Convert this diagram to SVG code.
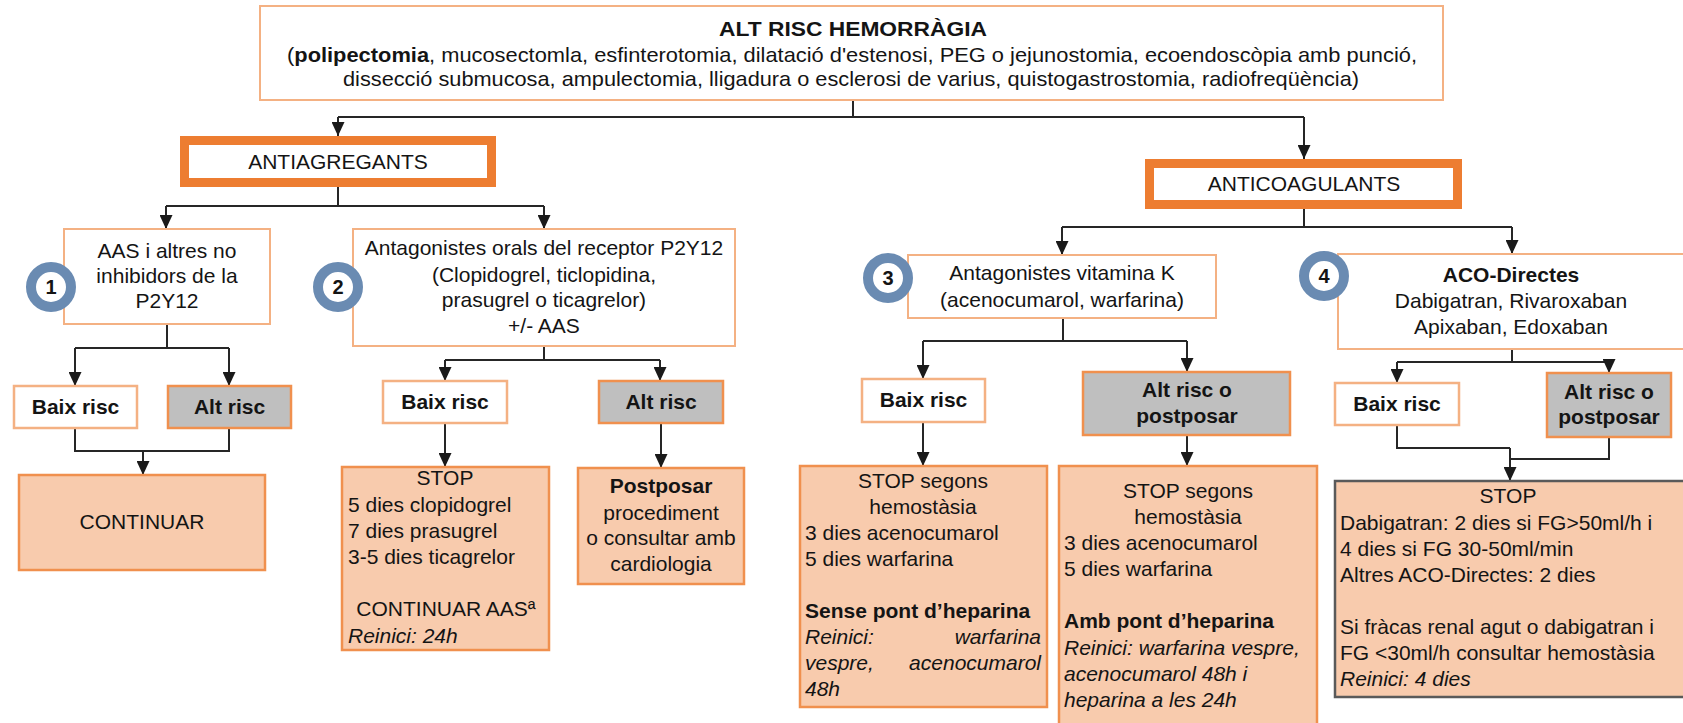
<svg xmlns="http://www.w3.org/2000/svg" width="1683" height="723" viewBox="0 0 1683 723">
  <defs>
    <marker id="arrow" viewBox="0 0 14 13" refX="14" refY="6.5" markerWidth="14" markerHeight="13" markerUnits="userSpaceOnUse" orient="auto">
      <path d="M0,0 L14,6.5 L0,13 z" fill="#1a1a1a"/>
    </marker>
    <style>
      text { font-family: "Liberation Sans", Arial, sans-serif; font-size: 21px; fill: #141414; }
      .c { text-anchor: middle; }
      .e { text-anchor: end; }
      .b { font-weight: bold; }
      .i { font-style: italic; }
      .box { fill: #ffffff; stroke: #f4b183; stroke-width: 2; }
      .risk { fill: #ffffff; stroke: #f4b183; stroke-width: 2.5; }
      .high { fill: #bfbfbf; stroke: #f0904e; stroke-width: 2.5; }
      .action { fill: #f8cbad; stroke: #f0904e; stroke-width: 2.5; }
      .dark { fill: #f8cbad; stroke: #5a5a5a; stroke-width: 2.5; }
      .group { fill: #ffffff; stroke: #ed7d31; stroke-width: 9; }
      .badge { fill: #ffffff; stroke: #6a8bb2; stroke-width: 10; }
      .num { font-weight: bold; font-size: 20px; text-anchor: middle; }
      .wire { fill: none; stroke: #262626; stroke-width: 2; }
    </style>
  </defs>

  <!-- connectors -->
  <g id="connectors" class="wire">
    <path d="M853 100 V117"/>
    <path d="M338 117 H1304"/>
    <path d="M338 117 V136" marker-end="url(#arrow)"/>
    <path d="M1304 117 V159" marker-end="url(#arrow)"/>

    <path d="M338 187 V206"/>
    <path d="M166 206 H544"/>
    <path d="M166 206 V229" marker-end="url(#arrow)"/>
    <path d="M544 206 V229" marker-end="url(#arrow)"/>

    <path d="M167 324 V348"/>
    <path d="M75 348 H229"/>
    <path d="M75 348 V386" marker-end="url(#arrow)"/>
    <path d="M229 348 V386" marker-end="url(#arrow)"/>
    <path d="M75 428 V451 H229 V428"/>
    <path d="M143 451 V475" marker-end="url(#arrow)"/>

    <path d="M544 346 V360"/>
    <path d="M445 360 H660"/>
    <path d="M445 360 V381" marker-end="url(#arrow)"/>
    <path d="M660 360 V381" marker-end="url(#arrow)"/>
    <path d="M445 423 V467" marker-end="url(#arrow)"/>
    <path d="M661 423 V468" marker-end="url(#arrow)"/>

    <path d="M1304 209 V227"/>
    <path d="M1062 227 H1512"/>
    <path d="M1062 227 V255" marker-end="url(#arrow)"/>
    <path d="M1512 227 V254" marker-end="url(#arrow)"/>

    <path d="M1063 318 V341"/>
    <path d="M923 341 H1187"/>
    <path d="M923 341 V379" marker-end="url(#arrow)"/>
    <path d="M1187 341 V372" marker-end="url(#arrow)"/>
    <path d="M923 422 V466" marker-end="url(#arrow)"/>
    <path d="M1187 435 V466" marker-end="url(#arrow)"/>

    <path d="M1512 349 V362"/>
    <path d="M1397 362 H1609"/>
    <path d="M1397 362 V383" marker-end="url(#arrow)"/>
    <path d="M1609 362 V373" marker-end="url(#arrow)"/>
    <path d="M1397 425 V448 H1510"/>
    <path d="M1609 437 V459 H1510"/>
    <path d="M1510 448 V481" marker-end="url(#arrow)"/>
  </g>

  <!-- root: high bleeding-risk procedures -->
  <g id="alt-risc">
    <rect class="box" x="260" y="6" width="1183" height="94"/>
    <text class="c b" x="853" y="36" textLength="268" lengthAdjust="spacingAndGlyphs">ALT RISC HEMORRÀGIA</text>
    <text class="c" x="852" y="62" textLength="1130" lengthAdjust="spacingAndGlyphs">(<tspan class="b">polipectomia</tspan>, mucosectomla, esfinterotomia, dilatació d'estenosi, PEG o jejunostomia, ecoendoscòpia amb punció,</text>
    <text class="c" x="851" y="86" textLength="1016" lengthAdjust="spacingAndGlyphs">dissecció submucosa, ampulectomia, lligadura o esclerosi de varius, quistogastrostomia, radiofreqüència)</text>
  </g>

  <!-- antiplatelet branch -->
  <g id="antiagregants">
    <rect class="group" x="184.5" y="140.5" width="307" height="42"/>
    <text class="c" x="338" y="169">ANTIAGREGANTS</text>
  </g>

  <g id="aas">
    <rect class="box" x="64" y="229" width="206" height="95"/>
    <text class="c" x="167" y="258">AAS i altres no</text>
    <text class="c" x="167" y="283">inhibidors de la</text>
    <text class="c" x="167" y="308">P2Y12</text>
    <circle class="badge" cx="51" cy="287" r="20"/>
    <text class="num" x="51" y="294">1</text>
  </g>

  <g id="p2y12">
    <rect class="box" x="353" y="229" width="382" height="117"/>
    <text class="c" x="544" y="255">Antagonistes orals del receptor P2Y12</text>
    <text class="c" x="544" y="282">(Clopidogrel, ticlopidina,</text>
    <text class="c" x="544" y="307">prasugrel o ticagrelor)</text>
    <text class="c" x="544" y="333">+/- AAS</text>
    <circle class="badge" cx="338" cy="287" r="20"/>
    <text class="num" x="338" y="294">2</text>
  </g>

  <g id="aas-baix">
    <rect class="risk" x="14" y="386" width="123" height="42"/>
    <text class="c b" x="75.5" y="414">Baix risc</text>
  </g>
  <g id="aas-alt">
    <rect class="high" x="168" y="386" width="123" height="42"/>
    <text class="c b" x="229.5" y="414">Alt risc</text>
  </g>
  <g id="aas-continuar">
    <rect class="action" x="19" y="475" width="246" height="95"/>
    <text class="c" x="142" y="529">CONTINUAR</text>
  </g>

  <g id="p2y12-baix">
    <rect class="risk" x="383" y="381" width="124" height="42"/>
    <text class="c b" x="445" y="409">Baix risc</text>
  </g>
  <g id="p2y12-alt">
    <rect class="high" x="599" y="381" width="124" height="42"/>
    <text class="c b" x="661" y="409">Alt risc</text>
  </g>
  <g id="p2y12-stop">
    <rect class="action" x="342" y="467" width="207" height="183"/>
    <text class="c" x="445" y="485">STOP</text>
    <text x="348" y="512">5 dies clopidogrel</text>
    <text x="348" y="538">7 dies prasugrel</text>
    <text x="348" y="564">3-5 dies ticagrelor</text>
    <text class="c" x="446" y="616">CONTINUAR AASª</text>
    <text class="i" x="348" y="643">Reinici: 24h</text>
  </g>
  <g id="p2y12-postposar">
    <rect class="action" x="578" y="468" width="166" height="116"/>
    <text class="c b" x="661" y="493">Postposar</text>
    <text class="c" x="661" y="520">procediment</text>
    <text class="c" x="661" y="545">o consultar amb</text>
    <text class="c" x="661" y="571">cardiologia</text>
  </g>

  <!-- anticoagulant branch -->
  <g id="anticoagulants">
    <rect class="group" x="1149.5" y="163.5" width="308" height="41"/>
    <text class="c" x="1304" y="191">ANTICOAGULANTS</text>
  </g>

  <g id="avk">
    <rect class="box" x="908" y="255" width="308" height="63"/>
    <text class="c" x="1062" y="280">Antagonistes vitamina K</text>
    <text class="c" x="1062" y="307">(acenocumarol, warfarina)</text>
    <circle class="badge" cx="888" cy="278" r="20"/>
    <text class="num" x="888" y="285">3</text>
  </g>

  <g id="aco">
    <rect class="box" x="1338" y="254" width="352" height="95"/>
    <text class="c b" x="1511" y="282">ACO-Directes</text>
    <text class="c" x="1511" y="308">Dabigatran, Rivaroxaban</text>
    <text class="c" x="1511" y="334">Apixaban, Edoxaban</text>
    <circle class="badge" cx="1324" cy="276" r="20"/>
    <text class="num" x="1324" y="283">4</text>
  </g>

  <g id="avk-baix">
    <rect class="risk" x="862" y="379" width="123" height="43"/>
    <text class="c b" x="923.5" y="407">Baix risc</text>
  </g>
  <g id="avk-alt">
    <rect class="high" x="1083" y="372" width="207" height="63"/>
    <text class="c b" x="1187" y="397">Alt risc o</text>
    <text class="c b" x="1187" y="423">postposar</text>
  </g>
  <g id="avk-stop-baix">
    <rect class="action" x="800" y="466" width="247" height="241"/>
    <text class="c" x="923" y="488">STOP segons</text>
    <text class="c" x="923" y="514">hemostàsia</text>
    <text x="805" y="540">3 dies acenocumarol</text>
    <text x="805" y="566">5 dies warfarina</text>
    <text class="b" x="805" y="618">Sense pont d’heparina</text>
    <text class="i" x="805" y="644">Reinici:</text>
    <text class="i e" x="1041" y="644">warfarina</text>
    <text class="i" x="805" y="670">vespre,</text>
    <text class="i e" x="1041" y="670">acenocumarol</text>
    <text class="i" x="805" y="696">48h</text>
  </g>
  <g id="avk-stop-alt">
    <rect class="action" x="1059" y="466" width="258" height="270"/>
    <text class="c" x="1188" y="498">STOP segons</text>
    <text class="c" x="1188" y="524">hemostàsia</text>
    <text x="1064" y="550">3 dies acenocumarol</text>
    <text x="1064" y="576">5 dies warfarina</text>
    <text class="b" x="1064" y="628">Amb pont d’heparina</text>
    <text class="i" x="1064" y="655">Reinici: warfarina vespre,</text>
    <text class="i" x="1064" y="681">acenocumarol 48h i</text>
    <text class="i" x="1064" y="707">heparina a les 24h</text>
  </g>

  <g id="aco-baix">
    <rect class="risk" x="1335" y="383" width="124" height="42"/>
    <text class="c b" x="1397" y="411">Baix risc</text>
  </g>
  <g id="aco-alt">
    <rect class="high" x="1547" y="373" width="124" height="64"/>
    <text class="c b" x="1609" y="399">Alt risc o</text>
    <text class="c b" x="1609" y="424">postposar</text>
  </g>
  <g id="aco-stop">
    <rect class="dark" x="1335" y="481" width="355" height="216"/>
    <text class="c" x="1508" y="503">STOP</text>
    <text x="1340" y="530">Dabigatran: 2 dies si FG&gt;50ml/h i</text>
    <text x="1340" y="556">4 dies si FG 30-50ml/min</text>
    <text x="1340" y="582">Altres ACO-Directes: 2 dies</text>
    <text x="1340" y="634">Si fràcas renal agut o dabigatran i</text>
    <text x="1340" y="660">FG &lt;30ml/h consultar hemostàsia</text>
    <text class="i" x="1340" y="686">Reinici: 4 dies</text>
  </g>
</svg>
